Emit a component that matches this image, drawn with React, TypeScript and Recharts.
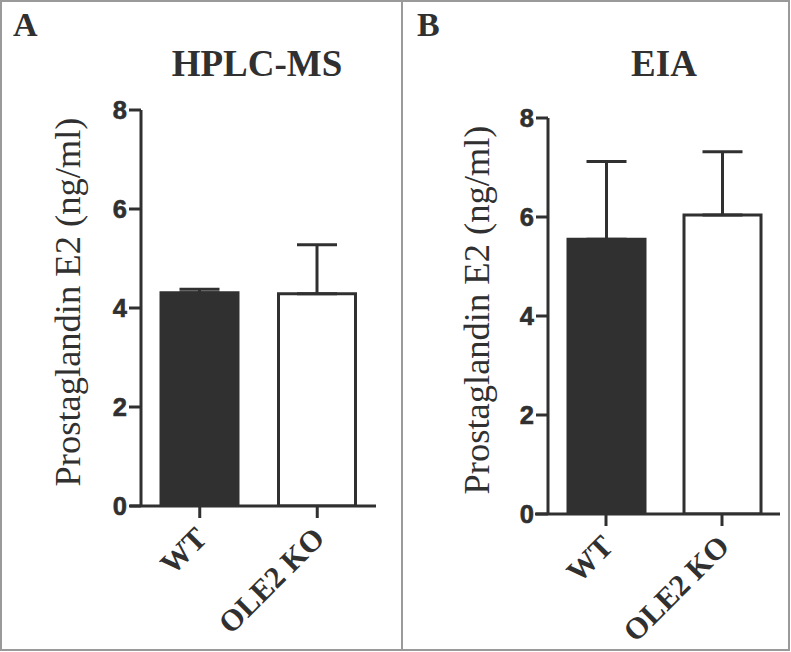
import React from 'react';
import { BarChart, Bar, XAxis, YAxis, ErrorBar, Cell, ReferenceLine } from 'recharts';

const categories = ['WT', 'OLE2 KO'];
const hplcValues = [4.31, 4.29];
const hplcErrors = [0.07, 0.99];
const eiaValues = [5.55, 6.04];
const eiaErrors = [1.57, 1.28];
const barFills = ['#303030', '#ffffff'];
const yTicks = [0, 2, 4, 6, 8];
const yLabel = 'Prostaglandin E2 (ng/ml)';
const panelTitles = ['HPLC-MS', 'EIA'];
const panelLetters = ['A', 'B'];

const INK = '#303030';
const SERIF = '"Liberation Serif", "Times New Roman", serif';
const SANS = '"Liberation Sans", Arial, sans-serif';

const buildRows = (values: number[], errors: number[]) =>
  categories.map((name, i) => ({ name, value: values[i], err: [0, errors[i]] }));

const XTick = (props: any) => {
  const { x, y, payload } = props;
  return (
    <g transform={`translate(${x + 9},${y + 20})`}>
      <text
        x={0}
        y={0}
        textAnchor="end"
        transform="rotate(-45)"
        fill={INK}
        fontFamily={SERIF}
        fontWeight="bold"
        fontSize={30.5}
      >
        {payload.value}
      </text>
    </g>
  );
};

const YTick = (props: any) => {
  const { x, y, payload } = props;
  return (
    <text
      x={x + 1}
      y={y}
      dy={9}
      textAnchor="end"
      fill={INK}
      fontFamily={SANS}
      fontWeight="bold"
      fontSize={25.5}
      stroke={INK}
      strokeWidth={0.6}
    >
      {payload.value}
    </text>
  );
};

type PanelProps = {
  values: number[];
  errors: number[];
  width: number;
  height: number;
  top: number;
  right: number;
  xAxisHeight: number;
  yAxisWidth: number;
  labelDx: number;
  labelDy: number;
  axisExtend: number;
};

const Panel = ({ values, errors, width, height, top, right, xAxisHeight, yAxisWidth, labelDx, labelDy, axisExtend }: PanelProps) => {
  const rows = buildRows(values, errors);
  return (
    <BarChart
      width={width}
      height={height}
      data={rows}
      margin={{ top, right, bottom: 0, left: 0 }}
      barCategoryGap={0}
    >
      <XAxis
        dataKey="name"
        axisLine={false}
        tickLine={{ stroke: INK, strokeWidth: 3 }}
        tickSize={12}
        tick={<XTick />}
        interval={0}
        height={xAxisHeight}
      />
      <YAxis
        domain={[0, 8]}
        ticks={yTicks}
        allowDataOverflow
        width={yAxisWidth}
        axisLine={{ stroke: INK, strokeWidth: 3 }}
        tickLine={{ stroke: INK, strokeWidth: 3 }}
        tickSize={12}
        tickMargin={3}
        tick={<YTick />}
        label={{
          value: yLabel,
          angle: -90,
          position: 'center',
          dx: labelDx,
          dy: labelDy,
          style: { fill: INK, fontSize: 36.5, fontFamily: SERIF, textAnchor: 'middle' },
        }}
      />
      <Bar dataKey="value" barSize={77} stroke={INK} strokeWidth={3} isAnimationActive={false}>
        {rows.map((r, i) => (
          <Cell key={r.name} fill={barFills[i]} />
        ))}
        <ErrorBar dataKey="err" direction="y" width={20} stroke={INK} strokeWidth={3} />
      </Bar>
      <ReferenceLine
        y={0}
        ifOverflow="visible"
        shape={(p: any) => (
          <line x1={p.x1 - axisExtend} y1={p.y1} x2={p.x2} y2={p.y2} stroke={INK} strokeWidth={3} />
        )}
      />
    </BarChart>
  );
};

export default function App() {
  return (
    <div
      style={{
        position: 'absolute',
        left: 0,
        top: 0,
        width: 791,
        height: 652,
        background: '#fff',
        overflow: 'hidden',
      }}
    >
      <div style={{ position: 'absolute', left: 0, top: 0 }}>
        <Panel
          values={hplcValues}
          errors={hplcErrors}
          width={402}
          height={650}
          top={110}
          right={26}
          xAxisHeight={144}
          yAxisWidth={141}
          labelDx={-3}
          labelDy={-6}
          axisExtend={11}
        />
      </div>
      <div style={{ position: 'absolute', left: 403, top: 0 }}>
        <Panel
          values={eiaValues}
          errors={eiaErrors}
          width={386}
          height={650}
          top={118}
          right={9}
          xAxisHeight={136}
          yAxisWidth={145}
          labelDx={1}
          labelDy={-6}
          axisExtend={13}
        />
      </div>
      <svg
        width={791}
        height={652}
        style={{ position: 'absolute', left: 0, top: 0, pointerEvents: 'none' }}
      >
        <rect x={1} y={1} width={788} height={649} fill="none" stroke="#9a9a9a" strokeWidth={2} />
        <line x1={402} y1={0} x2={402} y2={651} stroke="#9a9a9a" strokeWidth={2} />
        <text x={13} y={36} fill={INK} fontFamily={SERIF} fontWeight="bold" fontSize={34}>
          {panelLetters[0]}
        </text>
        <text x={417} y={36} fill={INK} fontFamily={SERIF} fontWeight="bold" fontSize={34}>
          {panelLetters[1]}
        </text>
        <text x={257} y={76} textAnchor="middle" fill={INK} fontFamily={SERIF} fontWeight="bold" fontSize={37}>
          {panelTitles[0]}
        </text>
        <text x={664} y={76} textAnchor="middle" fill={INK} fontFamily={SERIF} fontWeight="bold" fontSize={37}>
          {panelTitles[1]}
        </text>
      </svg>
    </div>
  );
}
